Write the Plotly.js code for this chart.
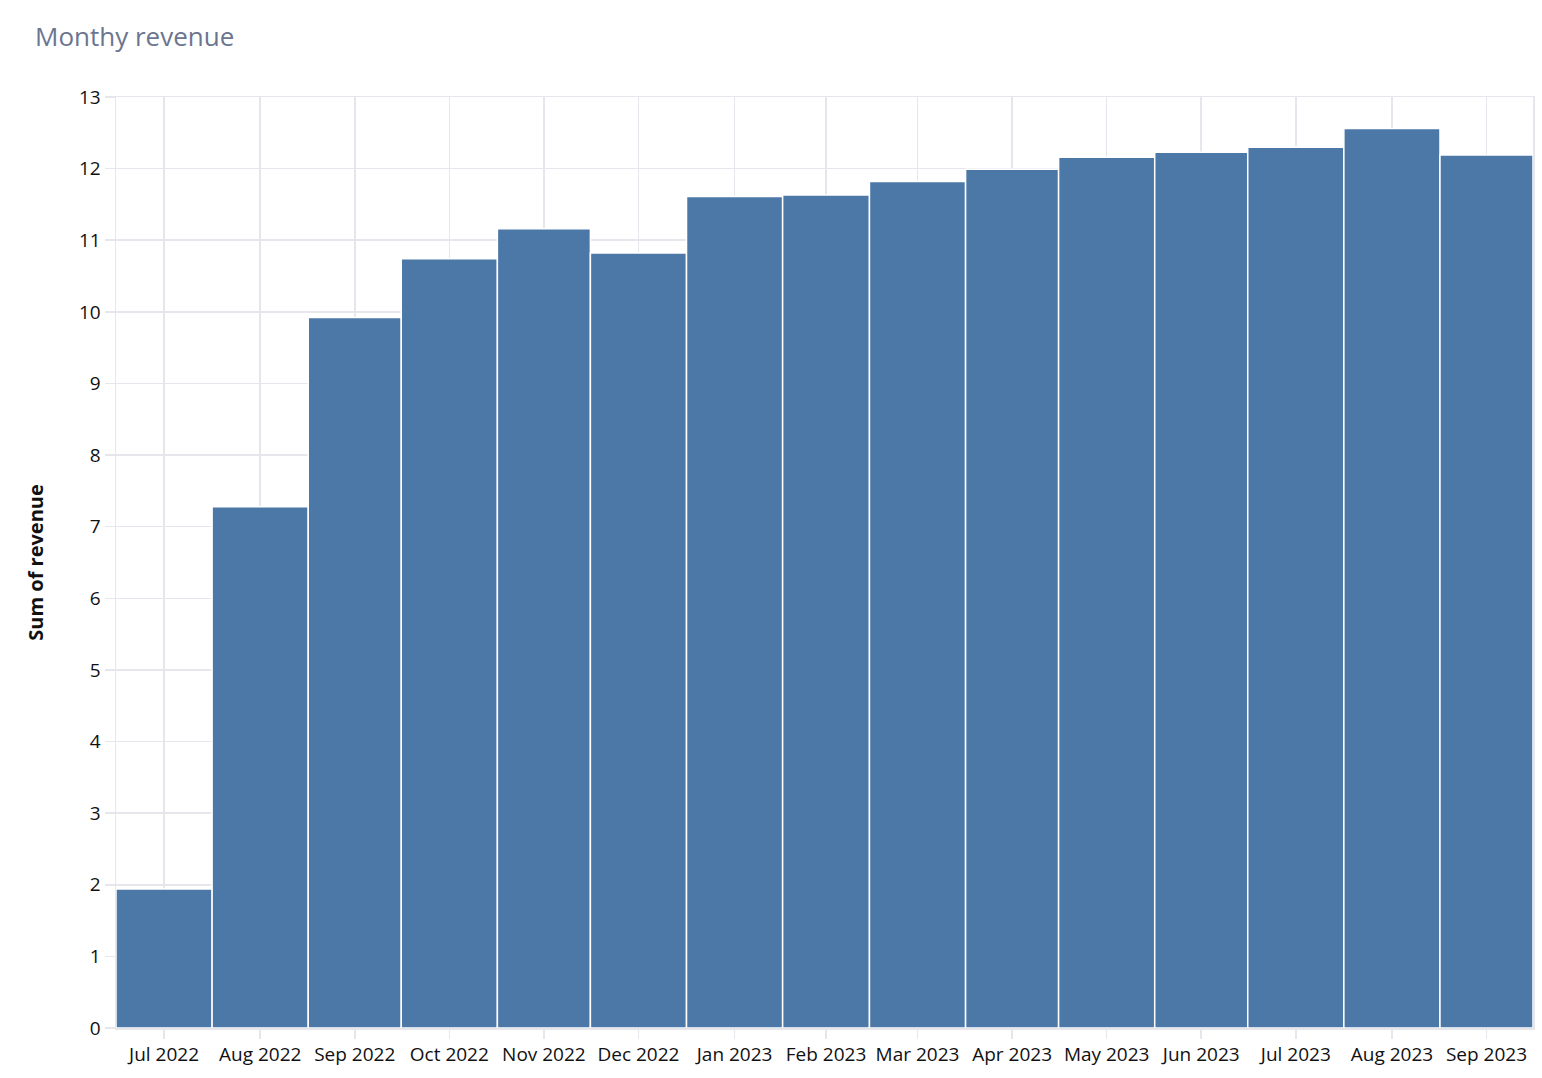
<!DOCTYPE html>
<html>
<head>
<meta charset="utf-8">
<script src="https://cdn.plot.ly/plotly-3.0.1.min.js"></script>
<style>html,body{margin:0;padding:0;background:#fff;}#chart{width:1542px;height:1078px;}</style>
</head>
<body>
<div id="chart"></div>
<script>
// Data
const months = ["2022-07","2022-08","2022-09","2022-10","2022-11","2022-12","2023-01","2023-02","2023-03","2023-04","2023-05","2023-06","2023-07","2023-08","2023-09"];
const tickLabels = ["Jul 2022","Aug 2022","Sep 2022","Oct 2022","Nov 2022","Dec 2022","Jan 2023","Feb 2023","Mar 2023","Apr 2023","May 2023","Jun 2023","Jul 2023","Aug 2023","Sep 2023"];
const revenue = [1.94, 7.28, 9.92, 10.74, 11.16, 10.82, 11.61, 11.63, 11.82, 11.99, 12.16, 12.23, 12.30, 12.56, 12.19];

// Derived month spans (start, end, midpoint)
function monthStart(m){ const [y,mo]=m.split("-").map(Number); return Date.UTC(y,mo-1,1); }
function monthEnd(m){ const [y,mo]=m.split("-").map(Number); return Date.UTC(y,mo,1); }
const widths = months.map(m => monthEnd(m) - monthStart(m));
const mids = months.map(m => new Date((monthStart(m)+monthEnd(m))/2).toISOString());
const xStart = new Date(monthStart(months[0])).toISOString();
const xEnd = new Date(monthEnd(months[months.length-1])).toISOString();

const grid = "#e6e7ec";
const trace = {
  type: "bar",
  x: mids,
  y: revenue,
  width: widths,
  marker: {color: "#4c78a8", line: {color: "#ffffff", width: 1.5}},
  hoverinfo: "skip"
};

const layout = {
  width: 1542, height: 1078,
  paper_bgcolor: "#ffffff", plot_bgcolor: "#ffffff",
  margin: {l: 116, r: 9, t: 97, b: 50},
  font: {family: "Open Sans, Noto Sans, sans-serif", size: 19, color: "#111111"},
  title: {text: "Monthy revenue", x: 35/1542, xref: "container", xanchor: "left", y: 1 - 37/1078, yref: "container", yanchor: "middle",
          font: {size: 26, color: "#6b7590"}},
  showlegend: false,
  bargap: 0,
  xaxis: {
    type: "date",
    range: [xStart, xEnd],
    tickvals: mids, ticktext: tickLabels,
    tickangle: 0,
    showgrid: true, gridcolor: grid, gridwidth: 1.5,
    ticks: "outside", ticklen: 9, tickcolor: grid, tickwidth: 1.5,
    showline: true, linecolor: grid, linewidth: 1.5, mirror: true,
    zeroline: false,
    tickfont: {size: 19, color: "#111111"}
  },
  yaxis: {
    range: [0, 13],
    dtick: 1, tick0: 0,
    showgrid: true, gridcolor: grid, gridwidth: 1.5,
    ticks: "outside", ticklen: 10, tickcolor: grid, tickwidth: 1.5,
    showline: true, linecolor: grid, linewidth: 1.5, mirror: true,
    zeroline: false,
    tickfont: {size: 19, color: "#111111"},
    title: {text: "<b>Sum of revenue</b>", standoff: 30, font: {size: 20, color: "#111111"}}
  }
};

Plotly.newPlot("chart", [trace], layout, {displayModeBar: false, staticPlot: true});
</script>
</body>
</html>
